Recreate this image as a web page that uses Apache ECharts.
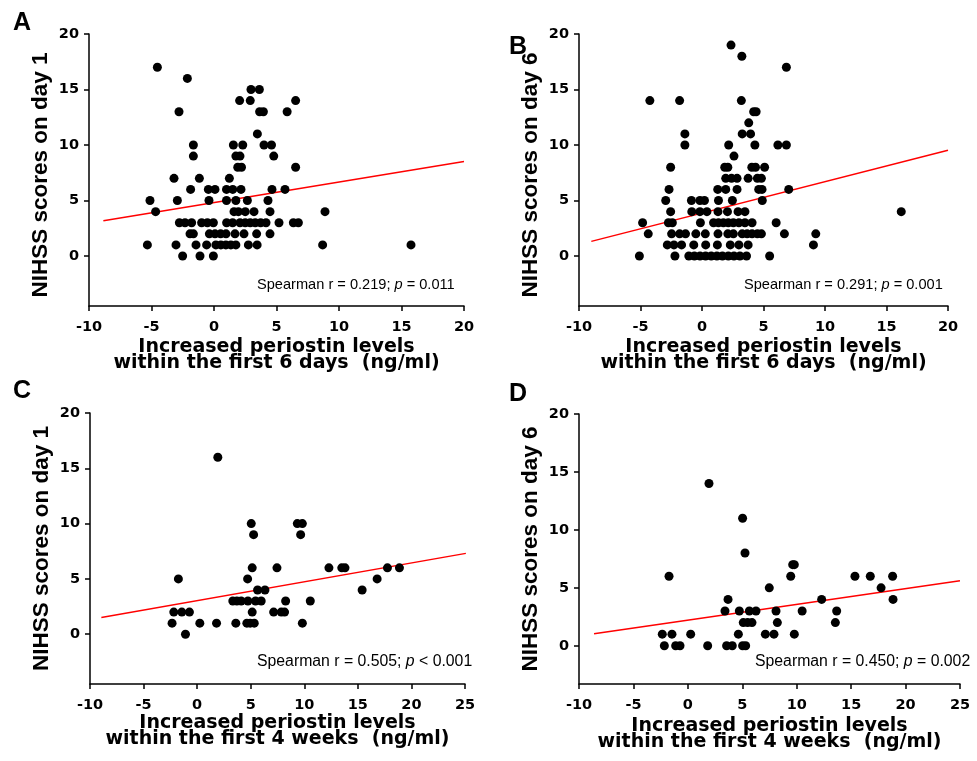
<!DOCTYPE html>
<html>
<head>
<meta charset="utf-8">
<script src="https://cdn.jsdelivr.net/npm/echarts@6/dist/echarts.min.js"></script>
<style>
html,body{margin:0;padding:0;background:#fff;}
#chart{width:977px;height:761px;}
</style>
</head>
<body>
<div id="chart"></div>
<script>
// ---- Data ----
var yTicks = [0, 5, 10, 15, 20];

// Panel A: increased periostin (first 6 days) vs NIHSS day 1
var aPoints = [
  [-4.53,17],[-2.13,16],[2.96,15],[3.63,15],[2.05,14],[2.9,14],[6.53,14],
  [-2.8,13],[3.65,13],[3.95,13],[5.85,13],[3.47,11],
  [-1.65,10],[1.55,10],[2.3,10],[4.0,10],[4.6,10],
  [-1.65,9],[1.75,9],[2.08,9],[4.78,9],
  [1.9,8],[2.2,8],[6.53,8],
  [-3.2,7],[-1.17,7],[1.23,7],
  [-1.87,6],[-0.45,6],[0.08,6],[1.0,6],[1.5,6],[2.16,6],[4.64,6],[5.68,6],
  [-5.12,5],[-2.93,5],[-0.4,5],[1.0,5],[1.75,5],[2.67,5],[4.32,5],
  [-4.67,4],[1.6,4],[1.95,4],[2.5,4],[3.2,4],[4.48,4],[8.88,4],
  [-2.77,3],[-2.32,3],[-1.79,3],[-0.99,3],[-0.53,3],[-0.05,3],[1.01,3],[1.49,3],[2.08,3],[2.5,3],[2.9,3],[3.3,3],[3.73,3],[4.16,3],[5.2,3],[6.35,3],[6.75,3],
  [-1.92,2],[-1.65,2],[-0.37,2],[0.08,2],[0.53,2],[0.96,2],[1.68,2],[2.4,2],[3.41,2],[4.48,2],
  [-5.33,1],[-3.04,1],[-1.44,1],[-0.59,1],[0.15,1],[0.55,1],[0.95,1],[1.35,1],[1.75,1],[2.75,1],[3.45,1],[8.69,1],[15.76,1],
  [-2.51,0],[-1.12,0],[-0.05,0]
];
var aFit = [[-8.85,3.18],[20,8.52]];

// Panel B: increased periostin (first 6 days) vs NIHSS day 6
var bPoints = [
  [2.36,19],[3.24,18],[6.86,17],
  [-4.24,14],[-1.82,14],[3.2,14],
  [4.2,13],[4.4,13],[3.8,12],
  [-1.39,11],[3.27,11],[3.95,11],
  [-1.39,10],[2.17,10],[4.3,10],[6.17,10],[6.86,10],
  [2.6,9],
  [-2.55,8],[1.85,8],[2.1,8],[4.05,8],[4.35,8],[5.09,8],
  [1.93,7],[2.4,7],[2.85,7],[3.75,7],[4.5,7],[4.83,7],
  [-2.68,6],[1.28,6],[1.93,6],[2.85,6],[4.61,6],[4.88,6],[7.05,6],
  [-2.95,5],[-0.86,5],[-0.17,5],[0.2,5],[1.34,5],[2.47,5],[4.9,5],
  [-2.55,4],[-0.83,4],[-0.17,4],[0.4,4],[1.3,4],[2.07,4],[2.93,4],[3.49,4],[16.2,4],
  [-4.83,3],[-2.73,3],[-2.41,3],[-0.13,3],[0.94,3],[1.34,3],[1.74,3],[2.14,3],[2.55,3],[3.0,3],[3.49,3],[4.07,3],[6.03,3],
  [-4.37,2],[-2.47,2],[-1.82,2],[-1.34,2],[-0.5,2],[0.27,2],[1.3,2],[2.1,2],[2.55,2],[3.27,2],[3.67,2],[4.07,2],[4.5,2],[4.83,2],[6.7,2],[9.25,2],
  [-2.82,1],[-2.28,1],[-1.66,1],[-0.67,1],[0.3,1],[1.25,1],[2.3,1],[3.0,1],[3.75,1],[9.06,1],
  [-5.09,0],[-2.2,0],[-1.07,0],[-0.62,0],[-0.16,0],[0.29,0],[0.75,0],[1.21,0],[1.66,0],[2.14,0],[2.6,0],[3.08,0],[3.62,0],[5.5,0]
];
var bFit = [[-9,1.32],[20,9.52]];

// Panel C: increased periostin (first 4 weeks) vs NIHSS day 1
var cPoints = [
  [1.93,16],[5.05,10],[9.35,10],[9.82,10],[5.27,9],[9.66,9],
  [5.14,6],[7.45,6],[12.3,6],[13.5,6],[13.8,6],[17.76,6],[18.88,6],
  [-1.75,5],[4.71,5],[16.8,5],
  [5.64,4],[6.33,4],[15.4,4],
  [3.33,3],[3.71,3],[4.11,3],[4.74,3],[5.45,3],[5.98,3],[8.26,3],[10.56,3],
  [-2.18,2],[-1.43,2],[-0.72,2],[5.14,2],[7.14,2],[7.85,2],[8.16,2],
  [-2.34,1],[0.25,1],[1.81,1],[3.61,1],[4.64,1],[4.95,1],[5.33,1],[9.82,1],
  [-1.09,0]
];
var cFit = [[-8.94,1.51],[25.08,7.31]];

// Panel D: increased periostin (first 4 weeks) vs NIHSS day 6
var dPoints = [
  [1.94,14],[5.03,11],[5.25,8],[9.63,7],[9.78,7],
  [-1.73,6],[9.45,6],[15.35,6],[16.76,6],[18.81,6],
  [7.48,5],[17.75,5],
  [3.69,4],[12.29,4],[18.85,4],
  [3.41,3],[4.73,3],[5.65,3],[6.26,3],[8.1,3],[10.5,3],[13.67,3],
  [5.09,2],[5.49,2],[5.89,2],[8.22,2],[13.55,2],
  [-2.35,1],[-1.46,1],[0.26,1],[4.64,1],[7.12,1],[7.91,1],[9.78,1],
  [-2.16,0],[-1.12,0],[-0.72,0],[1.82,0],[3.56,0],[4.08,0],[5.03,0],[5.31,0]
];
var dFit = [[-8.62,1.04],[25.0,5.62]];

var xNames = [
  'Increased periostin levels\nwithin the first 6 days  (ng/ml)',
  'Increased periostin levels\nwithin the first 6 days  (ng/ml)',
  'Increased periostin levels\nwithin the first 4 weeks  (ng/ml)',
  'Increased periostin levels\nwithin the first 4 weeks  (ng/ml)'
];
var yNames = ['NIHSS scores on day 1','NIHSS scores on day 6','NIHSS scores on day 1','NIHSS scores on day 6'];
var stats = [
  ['Spearman r = 0.219; ', 'p', ' = 0.011'],
  ['Spearman r = 0.291; ', 'p', ' = 0.001'],
  ['Spearman r = 0.505; ', 'p', ' < 0.001'],
  ['Spearman r = 0.450; ', 'p', ' = 0.002']
];
var panelLetters = ['A','B','C','D'];
var xRanges = [[-10,20],[-10,20],[-10,25],[-10,25]];
var yRanges = [[-4.5,20],[-4.5,20],[-4.5,20],[-3.3,20]];

// ---- Layout ----
var FONT = '"Liberation Sans", Arial, Helvetica, sans-serif';
var WIDE = '"DejaVu Sans", Verdana, sans-serif';
var grids = [
  {left: 89, top: 34, width: 375, height: 272},
  {left: 579, top: 34, width: 369, height: 272},
  {left: 90, top: 413, width: 375, height: 271},
  {left: 579, top: 414, width: 381, height: 270}
];
var xNameGaps = [33, 33, 30, 34];
var yNamePads = [[0,10,0,0],[0,10,0,0],[0,0,0,0],[0,0,0,0]];
var statPos = [[257,277,14.6],[744,277,14.6],[257,654,15.8],[755,654,15.8]];
var letterPos = [[13,11],[509,35],[13,379],[509,382]];

var allPoints = [aPoints, bPoints, cPoints, dPoints];
var allFits = [aFit, bFit, cFit, dFit];

var xAxes = [], yAxes = [], series = [], graphics = [];
for (var i = 0; i < 4; i++) {
  xAxes.push({
    type: 'value', gridIndex: i, min: xRanges[i][0], max: xRanges[i][1], interval: 5,
    splitLine: {show: false},
    axisLine: {show: true, onZero: false, lineStyle: {color: '#000', width: 1.5}},
    axisTick: {show: true, inside: false, length: 5, lineStyle: {color: '#000', width: 1.5}},
    axisLabel: {color: '#000', fontSize: 14.5, fontWeight: 'bold', fontFamily: WIDE, margin: 14},
    name: xNames[i], nameLocation: 'middle', nameGap: xNameGaps[i],
    nameTextStyle: {color: '#000', fontSize: 19, fontWeight: 'bold', fontFamily: WIDE, lineHeight: 16}
  });
  yAxes.push({
    type: 'value', gridIndex: i, min: yRanges[i][0], max: yRanges[i][1],
    splitLine: {show: false},
    axisLine: {show: true, onZero: false, lineStyle: {color: '#000', width: 1.5}},
    axisTick: {show: true, inside: false, length: 5, customValues: yTicks, lineStyle: {color: '#000', width: 1.5}},
    axisLabel: {color: '#000', fontSize: 14.5, fontWeight: 'bold', fontFamily: WIDE, margin: 10, customValues: yTicks},
    name: yNames[i], nameLocation: 'middle', nameGap: 37,
    nameTextStyle: {color: '#000', fontSize: 22.5, fontWeight: 'bold', fontFamily: FONT, padding: yNamePads[i]}
  });
  series.push({
    type: 'line', xAxisIndex: i, yAxisIndex: i, data: allFits[i],
    showSymbol: false, symbol: 'none', z: 2,
    lineStyle: {color: '#f00', width: 1.5}, silent: true
  });
  series.push({
    type: 'scatter', xAxisIndex: i, yAxisIndex: i, data: allPoints[i],
    symbol: 'circle', symbolSize: 9, z: 3,
    itemStyle: {color: '#000', opacity: 1}
  });
  graphics.push({
    type: 'text', left: statPos[i][0], top: statPos[i][1],
    style: {
      text: '{a|' + stats[i][0] + '}{b|' + stats[i][1] + '}{a|' + stats[i][2] + '}',
      rich: {
        a: {fontSize: statPos[i][2], fontFamily: FONT, fill: '#000', color: '#000'},
        b: {fontSize: statPos[i][2], fontFamily: FONT, fontStyle: 'italic', fill: '#000', color: '#000'}
      },
      fill: '#000'
    }
  });
  graphics.push({
    type: 'text', left: letterPos[i][0], top: letterPos[i][1],
    style: {text: panelLetters[i], fill: '#000', font: 'bold 25px ' + FONT}
  });
}

var chart = echarts.init(document.getElementById('chart'), null, {renderer: 'canvas'});
chart.setOption({
  backgroundColor: '#fff',
  animation: false,
  grid: grids,
  xAxis: xAxes,
  yAxis: yAxes,
  series: series,
  graphic: graphics
});
</script>
</body>
</html>
